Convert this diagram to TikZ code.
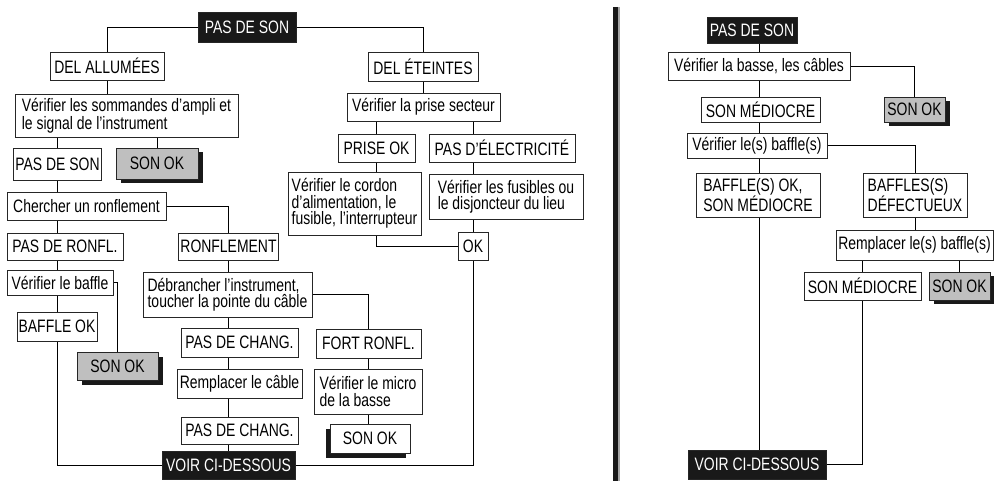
\documentclass[tikz,border=0pt]{standalone}
\usepackage{fontspec}
\setmainfont[FakeStretch=0.775]{Liberation Sans}
\usetikzlibrary{shadows,backgrounds}

\newcommand{\shoff}{4.5pt}
\newcommand{\linkw}{2.2pt}

\tikzset{
	box/.style={draw=black!85, line width=0.9pt, fill=white, inner sep=1.5pt, align=left, font=\fontsize{18}{16.5}\selectfont},
	bw/.style={minimum width=#1pt},
	bh/.style={minimum height=#1pt},
	darkbox/.style={box, fill=black!90, text=white},
	okbox/.style={box, fill=black!25, drop shadow={shadow xshift=\shoff, shadow yshift=-\shoff, fill=black!90, opacity=1}},
	leftokbox/.style={box, drop shadow={shadow xshift=-\shoff, shadow yshift=-\shoff, fill=black!90, opacity=1}},
	link/.style={line width=\linkw, black!90},
}

\begin{document}
\begin{tikzpicture}[x=1pt,y=-1pt]
	\useasboundingbox (0,0) rectangle (994,481);
	%The left chart: LEDs on
	\node[darkbox, bw=98, bh=30] (top) at (247,27) {PAS DE SON};
	\node[box, bw=114, bh=28] (allum) at (107,66) {DEL ALLUMÉES};
	\node[box, bw=223, bh=43] (ampli) at (126.5,115.5) {Vérifier les sommandes d'ampli et\\le signal de l'instrument};
	\node[box, bw=81, bh=32] (passon) at (57.5,164) {PAS DE SON};
	\node[okbox, bw=82, bh=31] (sonok1) at (157,163.5) {SON OK};
	\node[box, bw=159, bh=28] (ronfl) at (86.5,206) {Chercher un ronflement};
	\node[box, bw=116, bh=27] (pasronfl) at (65,246.5) {PAS DE RONFL.};
	\node[box, bw=97, bh=27] (ronflement) at (228.5,246.5) {RONFLEMENT};
	\node[box, bw=106, bh=25] (baffle) at (60,282.5) {Vérifier le baffle};
	\node[box, bw=80, bh=29] (baffleok) at (57,326.5) {BAFFLE OK};
	\node[okbox, bw=81, bh=28] (sonok2) at (117.5,366) {SON OK};
	\node[box, bw=169, bh=45] (debr) at (227.5,294.5) {Débrancher l'instrument,\\toucher la pointe du câble};
	\node[box, bw=117, bh=29] (chang1) at (239.5,342.5) {PAS DE CHANG.};
	\node[box, bw=125, bh=29] (cable) at (239.5,383.5) {Remplacer le câble};
	\node[box, bw=117, bh=27] (chang2) at (239.5,430.5) {PAS DE CHANG.};
	\node[darkbox, bw=133, bh=28] (voir) at (228.5,465) {VOIR CI-DESSOUS};
	\node[box, bw=105, bh=29] (fort) at (368.5,343.5) {FORT RONFL.};
	\node[box, bw=108, bh=45] (micro) at (368,391.5) {Vérifier le micro\\de la basse};
	\node[leftokbox, bw=80, bh=29] (sonok3) at (370,438.5) {SON OK};
	%The left chart: LEDs off
	\node[box, bw=110, bh=29] (eteint) at (423,66.5) {DEL ÉTEINTES};
	\node[box, bw=153, bh=28] (prise) at (423.5,107) {Vérifier la prise secteur};
	\node[box, bw=77, bh=28] (priseok) at (376.5,148) {PRISE OK};
	\node[box, bw=146, bh=28] (paselec) at (502,148) {PAS D'ÉLECTRICITÉ};
	\node[box, bw=133, bh=63] (cordon) at (354.5,203.5) {Vérifier le cordon\\d'alimentation, le\\fusible, l'interrupteur};
	\node[box, bw=154, bh=45] (fusib) at (506,196.5) {Vérifier les fusibles ou\\le disjoncteur du lieu};
	\node[box, bw=30, bh=28] (ok) at (473,246) {OK};
	%The separator
	\draw[line width=7pt, black!35] (616.5,7) -- (616.5,481);
	\draw[line width=5.5pt, black!90] (615.5,7) -- (615.5,481);
	%The right chart
	\node[darkbox, bw=90, bh=26] (rtop) at (752,30) {PAS DE SON};
	\node[box, bw=182, bh=28] (basse) at (759,66) {Vérifier la basse, les câbles};
	\node[box, bw=119, bh=25] (medio1) at (760.5,109.5) {SON MÉDIOCRE};
	\node[okbox, bw=61, bh=25] (rsonok1) at (914.5,109.5) {SON OK};
	\node[box, bw=140, bh=25] (rbaffle) at (757,145.5) {Vérifier le(s) baffle(s)};
	\node[box, bw=124, bh=44] (rbafok) at (758,195) {BAFFLE(S) OK,\\SON MÉDIOCRE};
	\node[box, bw=104, bh=44] (rdefect) at (915,195) {BAFFLES(S)\\DÉFECTUEUX};
	\node[box, bw=157, bh=30] (rrempl) at (914.5,245) {Remplacer le(s) baffle(s)};
	\node[box, bw=117, bh=28] (medio2) at (862.5,286) {SON MÉDIOCRE};
	\node[okbox, bw=61, bh=28] (rsonok2) at (959.5,286) {SON OK};
	\node[darkbox, bw=138, bh=29] (rvoir) at (757,464.5) {VOIR CI-DESSOUS};
	%Draw the connectors behind the boxes
	\begin{scope}[on background layer, link]
		\draw (top.west) -| (allum.north);
		\draw (top.east) -| (eteint.north);
		\draw (allum.south) -- (allum.south |- ampli.north);
		\draw (ampli.south -| passon.north) -- (passon.north);
		\draw (ampli.south -| sonok1.north) -- (sonok1.north);
		\draw (passon.south) |- (voir.west);
		\draw (ronfl.east) -| (ronflement.north);
		\draw (ronflement.south) -- (voir.north);
		\draw (baffle.east) -| (sonok2.north);
		\draw (debr.east) -| (fort.north);
		\draw (fort.south) -- (fort.south |- sonok3.north);
		\draw (eteint.south) -- (eteint.south |- prise.north);
		\draw (prise.south -| priseok.north) -- (priseok.north);
		\draw (prise.south -| ok.north) |- (voir.east);
		\draw (priseok.south) |- (ok.west);
		\draw (rtop.south -| basse.north) -- (basse.north);
		\draw (basse.south) -- (basse.south |- rvoir.north);
		\draw (basse.east) -| (rsonok1.north);
		\draw (rbaffle.east) -| (rdefect.north);
		\draw (rdefect.south) -- (rdefect.south |- rrempl.north);
		\draw (rrempl.south -| medio2.north) -- (medio2.north);
		\draw (rrempl.south -| rsonok2.north) -- (rsonok2.north);
		\draw (medio2.south) |- (rvoir.east);
	\end{scope}
\end{tikzpicture}
\end{document}
